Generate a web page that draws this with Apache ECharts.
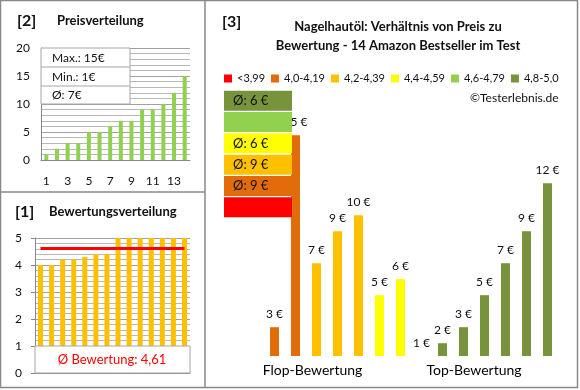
<!DOCTYPE html>
<html><head><meta charset="utf-8">
<script src="https://cdn.jsdelivr.net/npm/echarts@6/dist/echarts.min.js"></script>
<style>html,body{margin:0;padding:0;background:#fff}#c{width:580px;height:390px}</style>
</head><body><div id="c"></div>
<script>
// ---- data ----
const priceCats = ['1','2','3','4','5','6','7','8','9','10','11','12','13','14'];
const priceSorted = [1,2,3,3,5,5,6,7,7,9,9,10,12,15];
const priceTicks = [0,5,10,15,20];
const priceStats = ['Max.: 15€','Min.: 1€','Ø: 7€'];

const ratingSorted = [4.0,4.0,4.2,4.2,4.3,4.4,4.4,5,5,5,5,5,5,5];
const avgRating = 4.61;
const avgRatingText = 'Ø Bewertung: 4,61';

const priceByRating = [3,15,7,9,10,5,6,1,2,3,5,7,9,12];
const ratingClass   = [1,1,2,2,2,3,3,5,5,5,5,5,5,5];
const classNames  = ['<3,99','4,0-4,19','4,2-4,39','4,4-4,59','4,6-4,79','4,8-5,0'];
const classColors = ['#FF0000','#E36C0A','#FFC000','#FFFF00','#92D050','#77933C'];
const classAvgLabels = ['', 'Ø: 9 €', 'Ø: 9 €', 'Ø: 6 €', '', 'Ø: 6 €'];
const classBoxValue = [1,1,1,1,1,1];
const groupLabels = ['Flop-Bewertung','Top-Bewertung'];
const titles = {
  p2: 'Preisverteilung', p1: 'Bewertungsverteilung',
  p3a: 'Nagelhautöl: Verhältnis von Preis zu', p3b: 'Bewertung - 14 Amazon Bestseller im Test',
  copy: '©Testerlebnis.de'
};

// ---- chart ----
const F = 'Lato, "Open Sans", sans-serif';
const TXT = '#111';
const gridMajor = '#A0A0A0';
const gridMinor = '#B8B8B8';
const border = '#888888';
const chart = echarts.init(document.getElementById('c'), null, {renderer:'canvas'});

const classSeries = classNames.map((name, c) => ({
  name, type:'bar', xAxisIndex:2, yAxisIndex:2, barWidth:9, barGap:'-100%',
  itemStyle:{color: classColors[c]},
  label:{show:true, position:'top', distance:7, formatter:'{c} €', fontFamily:F, fontSize:12, color:TXT},
  data: priceByRating.map((p,i) => ratingClass[i] === c ? p : '-')
}));

const txt = (text, x, y, font, fill, align) => ({
  type:'text', z:100, silent:true,
  style:{text, x, y, font, fill: fill || TXT, textAlign: align || 'left', verticalAlign:'middle'}
});
const line = (x1,y1,x2,y2,color,w) => ({type:'line', z:100, silent:true,
  shape:{x1,y1,x2,y2}, style:{stroke:color, lineWidth:w||1}});

const option = {
  animation:false,
  backgroundColor:'#fff',
  legend:{
    data: classNames, left:224, top:73, width:354, icon:'rect', itemWidth:8, itemHeight:8, itemGap:6,
    padding:0, selectedMode:false,
    textStyle:{fontFamily:F, fontSize:11, color:TXT}
  },
  grid:[
    {left:41, top:48, width:149, height:112},
    {left:35, top:238, width:155, height:135},
    {left:264, top:119.2, width:294, height:236.8},
    {left:224, top:90, width:68, height:128}
  ],
  xAxis:[
    {gridIndex:0, type:'category', data:priceCats,
      axisLine:{show:true, lineStyle:{color:border}}, axisTick:{show:false},
      axisLabel:{interval:1, margin:15, fontFamily:F, fontSize:12, color:TXT}},
    {gridIndex:1, type:'category', data:priceCats,
      axisLine:{show:true, lineStyle:{color:border}}, axisTick:{show:false}, axisLabel:{show:false}},
    {gridIndex:2, type:'category', data:priceCats, show:false},
    {gridIndex:3, type:'value', min:0, max:1, show:false}
  ],
  yAxis:[
    {gridIndex:0, type:'value', min:priceTicks[0], max:priceTicks[priceTicks.length-1], interval:5,
      axisLine:{show:true, lineStyle:{color:border}}, axisTick:{show:false},
      axisLabel:{margin:11, fontFamily:F, fontSize:12, color:TXT},
      splitLine:{show:true, lineStyle:{color:gridMajor}},
      minorTick:{show:false, splitNumber:5},
      minorSplitLine:{show:true, lineStyle:{color:gridMinor}}},
    {gridIndex:1, type:'value', min:0, max:5, interval:1,
      axisLine:{show:true, lineStyle:{color:border}}, axisTick:{show:true, length:4, lineStyle:{color:border}},
      axisLabel:{margin:13, fontFamily:F, fontSize:12, color:TXT},
      splitLine:{show:true, lineStyle:{color:gridMajor}},
      minorTick:{show:false, splitNumber:5},
      minorSplitLine:{show:true, lineStyle:{color:gridMinor}}},
    {gridIndex:2, type:'value', min:1.2, max:16, startValue:1.2, show:false},
    {gridIndex:3, type:'category', data:classNames, show:false}
  ],
  series:[
    {type:'bar', xAxisIndex:0, yAxisIndex:0, data:priceSorted, barWidth:4, itemStyle:{color:'#92D050'}},
    {type:'bar', xAxisIndex:1, yAxisIndex:1, data:ratingSorted, barWidth:5, itemStyle:{color:'#FFC000'},
      markLine:{silent:true, symbol:'none', label:{show:false},
        lineStyle:{color:'#FF0000', width:3, type:'solid', cap:'butt'},
        data:[[{coord:[0, avgRating]},{coord:[13, avgRating]}]]}},
    ...classSeries,
    {type:'bar', xAxisIndex:3, yAxisIndex:3, z:10, barCategoryGap:'6%',
      data: classBoxValue.map((v,i) => ({value:v, itemStyle:{color:classColors[i]}})),
      label:{show:true, position:'insideLeft', distance:9, fontFamily:F, fontSize:13, color:TXT,
        formatter: p => classAvgLabels[p.dataIndex]}}
  ],
  graphic:[
    // frame
    {type:'rect', z:99, silent:true, shape:{x:0.5,y:0.5,width:577,height:387}, style:{fill:'none', stroke:border, lineWidth:1.5}},
    line(205,0,205,388,border,1.5),
    line(0,192,205,192,border,1.5),
    // panel 2
    txt('[2]', 17, 21, 'bold 16px Lato'),
    txt(titles.p2, 57, 21, 'bold 13px Lato'),
    {type:'rect', z:100, silent:true, shape:{x:41,y:48,width:89,height:56}, style:{fill:'#fff', stroke:'#A6A6A6', lineWidth:1}},
    line(41,67,130,67,'#A6A6A6',1), line(41,86,130,86,'#A6A6A6',1),
    txt(priceStats[0], 52, 58.5, '12px Lato'),
    txt(priceStats[1], 52, 77.5, '12px Lato'),
    txt(priceStats[2], 52, 95.5, '12px Lato'),
    // panel 1
    txt('[1]', 15, 212, 'bold 16px Lato'),
    txt(titles.p1, 49, 212, 'bold 13px Lato'),
    {type:'rect', z:100, silent:true, shape:{x:35,y:346,width:155,height:27}, style:{fill:'#fff', stroke:'#A6A6A6', lineWidth:1}},
    txt(avgRatingText, 112, 360, '13px Lato', '#FF0000', 'center'),
    // panel 3
    txt('[3]', 222, 22, 'bold 16px Lato'),
    txt(titles.p3a, 398, 27, 'bold 13px Lato', TXT, 'center'),
    txt(titles.p3b, 398, 46, 'bold 13px Lato', TXT, 'center'),
    txt(titles.copy, 470, 98, '12px Lato'),
    txt(groupLabels[0], 312.5, 370, '14px Lato', '#000', 'center'),
    txt(groupLabels[1], 474, 370, '14px Lato', '#000', 'center')
  ]
};
chart.setOption(option);
</script>
</body></html>
